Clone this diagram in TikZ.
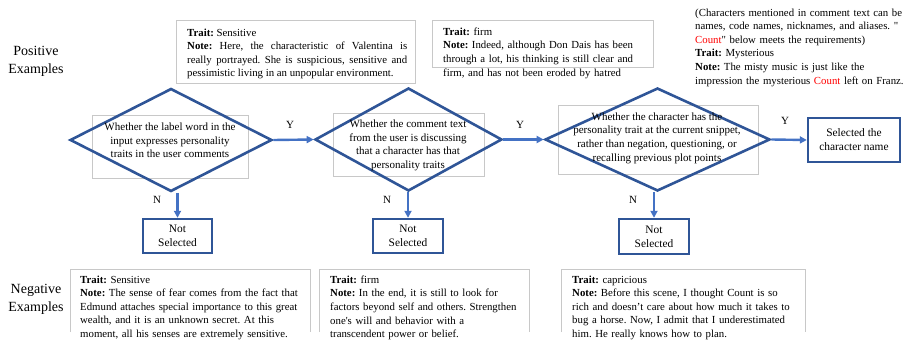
\documentclass[tikz,border=0pt]{standalone}
\usepackage{fontspec}
\setmainfont{Liberation Serif}[Ligatures=TeXOff]
\usetikzlibrary{shapes.geometric,arrows.meta}
\definecolor{dblue}{HTML}{2F5597}
\definecolor{lblue}{HTML}{4472C4}
\definecolor{gbox}{HTML}{C8C8C8}
\definecolor{cred}{HTML}{FF0000}
\frenchspacing
\begin{document}
\begin{tikzpicture}[x=1pt,y=-1pt,
  txt/.style={font=\fontsize{10.8}{13.6}\selectfont, inner sep=0pt},
  note/.style={txt, anchor=north west, align=left, text width=#1},
  jnote/.style={txt, anchor=north west, align=justify, text width=#1},
  side/.style={font=\fontsize{14}{18}\selectfont, align=center, inner sep=0pt},
  dec/.style={diamond, draw=dblue, line width=2.6pt, inner sep=0pt, minimum width=#1, minimum height=103pt},
  qtext/.style={font=\fontsize{11}{13.6}\selectfont, inner sep=0pt, align=center},
  endbox/.style={draw=dblue, line width=2.4pt, font=\fontsize{11.4}{14}\selectfont, inner sep=0pt, align=center, minimum width=#1},
  grayframe/.style={draw=gbox, line width=0.6pt},
  flow/.style={draw=lblue, line width=2.4pt, -{Triangle[length=7pt,width=7pt]}},
  lab/.style={font=\fontsize{11}{12}\selectfont, inner sep=0pt}
]
\useasboundingbox (0,0) rectangle (907,342);

% side labels
\node[side] (pos) at (36,61) {Positive\\Examples};
\node[side] (neg) at (36,299) {Negative\\Examples};

% gray frames
\draw[grayframe] (176,20) rectangle (415,83);
\draw[grayframe] (432,20) rectangle (653,67);
\draw[grayframe] (92,115) rectangle (248,178);
\draw[grayframe] (333,113) rectangle (484,176);
\draw[grayframe] (558,105) rectangle (758,174);
\draw[grayframe] (70,332) -- (70,269) -- (310,269) -- (310,332);
\draw[grayframe] (319,332) -- (319,269) -- (529,269) -- (529,332);
\draw[grayframe] (561,332) -- (561,269) -- (805,269) -- (805,332);

% top examples
\node[jnote=220pt] (p1) at (187,28.5) {\textbf{Trait:} Sensitive\\
\textbf{Note:} Here, the characteristic of Valentina is\linebreak
really portrayed. She is suspicious, sensitive and\linebreak
pessimistic living in an unpopular environment.};
\node[note=240pt] (p2) at (443,27.5) {\textbf{Trait:} firm\\
\textbf{Note:} Indeed, although Don Dais has been\\
through a lot, his thinking is still clear and\\
firm, and has not been eroded by hatred};
\node[note=240pt] (p3) at (695,8.5) {(Characters mentioned in comment text can be\\
names, code names, nicknames, and aliases. "\\
\textcolor{cred}{Count}" below meets the requirements)\\
\textbf{Trait:} Mysterious\\
\textbf{Note:} The misty music is just like the\\
impression the mysterious \textcolor{cred}{Count} left on Franz.};

% bottom examples
\node[note=260pt] (n1) at (80,275.5) {\textbf{Trait:} Sensitive\\
\textbf{Note:} The sense of fear comes from the fact that\\
Edmund attaches special importance to this great\\
wealth, and it is an unknown secret. At this\\
moment, all his senses are extremely sensitive.};
\node[note=230pt] (n2) at (330,275.5) {\textbf{Trait:} firm\\
\textbf{Note:} In the end, it is still to look for\\
factors beyond self and others. Strengthen\\
one's will and behavior with a\\
transcendent power or belief.};
\node[note=260pt] (n3) at (572,275.5) {\textbf{Trait:} capricious\\
\textbf{Note:} Before this scene, I thought Count is so\\
rich and doesn’t care about how much it takes to\\
bug a horse. Now, I admit that I underestimated\\
him. He really knows how to plan.};

% decisions
\node[dec=202pt] (d1) at (171,140) {};
\node[dec=187pt] (d2) at (408.5,139.5) {};
\node[dec=225pt] (d3) at (657.5,139.5) {};

\node[qtext] (t1) at (170,140.5) {Whether the label word in the\\input expresses personality\\traits in the user comments};
\node[qtext] (t2) at (408,145.5) {Whether the comment text\\from the user is discussing\\that a character has that\\personality traits};
\node[qtext] (t3) at (657,138) {Whether the character has the\\personality trait at the current snippet,\\rather than negation, questioning, or\\recalling previous plot points};

% end boxes
\node[endbox=69pt, minimum height=34pt] (ns1) at (177.5,236) {Not\\Selected};
\node[endbox=70pt, minimum height=34pt] (ns2) at (408,236) {Not\\Selected};
\node[endbox=70pt, minimum height=35pt] (ns3) at (654,236.5) {Not\\Selected};
\node[endbox=92pt, minimum height=44pt] (sel) at (854,140) {Selected the\\character name};

% connectors
\draw[flow] (d1.east) -- (d2.west);
\draw[flow] (d2.east) -- (d3.west);
\draw[flow] (d3.east) -- (sel.west);
\draw[flow] (ns1.north |- d1.south) -- (ns1.north);
\draw[flow] (ns2.north |- d2.south) -- (ns2.north);
\draw[flow] (ns3.north |- d3.south) -- (ns3.north);

% labels
\node[lab] (y1) at (290,125) {Y};
\node[lab] (y2) at (520,125) {Y};
\node[lab] (y3) at (785,121) {Y};
\node[lab] (m1) at (157,200) {N};
\node[lab] (m2) at (387,200) {N};
\node[lab] (m3) at (633,200) {N};
\end{tikzpicture}
\end{document}
